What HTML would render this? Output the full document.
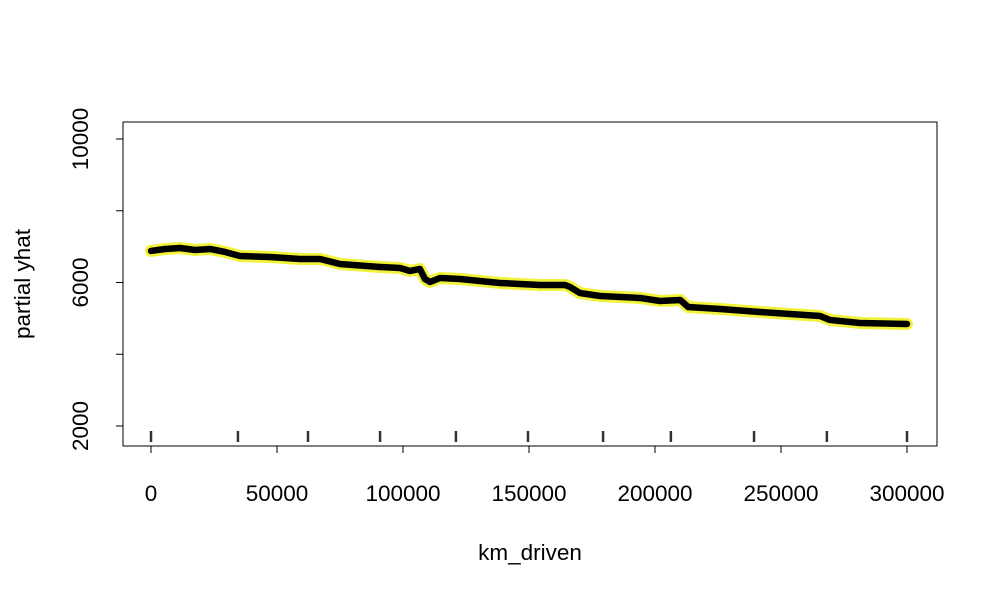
<!DOCTYPE html>
<html><head><meta charset="utf-8"><style>body{margin:0;background:#fff}svg text{font-family:"Liberation Sans",Arial,sans-serif;font-size:22.5px;fill:#000}</style></head>
<body>
<svg id="chart" width="1000" height="600">
<rect x="123" y="122" width="814" height="324" fill="none" stroke="#000" stroke-width="1"/>
<g id="axes"></g>
<g id="series"></g>
<text x="530" y="560" text-anchor="middle">km_driven</text>
<text transform="translate(30,284) rotate(-90)" text-anchor="middle">partial yhat</text>
</svg>
<script>
const kmValues=[0,5560,11500,17500,23400,29400,35300,47200,59100,67100,75000,90900,98800,102800,106700,108700,110700,114700,122600,130500,138500,146400,154400,164300,166300,170200,178200,194000,202000,210000,213100,225800,241700,253600,265500,269400,281300,300000];
const yhatValues=[6879,6934,6962,6906,6934,6851,6739,6711,6656,6656,6516,6433,6405,6321,6377,6098,6015,6126,6098,6043,5987,5959,5931,5931,5875,5708,5624,5569,5485,5513,5318,5262,5179,5123,5067,4956,4872,4844];
const rugValues=[0,34500,62300,90900,121000,149600,179400,206300,239300,268200,300000];
const xTicks=[0,50000,100000,150000,200000,250000,300000];
const yTicks=[2000,6000,10000];
const yMinor=[4000,8000];
const ns="http://www.w3.org/2000/svg";
const sx=v=>151+v*756/300000;
const sy=v=>139+(10000-v)*143.5/4000;
const ax=document.getElementById('axes'),se=document.getElementById('series');
function mk(t,a,p){const e=document.createElementNS(ns,t);for(const k in a)e.setAttribute(k,a[k]);p.appendChild(e);return e;}
mk('line',{x1:sx(0),x2:sx(300000),y1:446,y2:446,stroke:'#000'},ax);
xTicks.forEach(v=>{
 const l=mk('line',{x1:sx(v),x2:sx(v),y1:446,y2:453,stroke:'#000'},ax);
 
 
 const t=mk('text',{x:sx(v),y:501,'text-anchor':'middle'},ax);t.textContent=v;
 
 
});
mk('line',{x1:123,x2:123,y1:sy(2000),y2:sy(10000),stroke:'#000'},ax);
yTicks.concat(yMinor).forEach(v=>{
 const l=mk('line',{x1:116,x2:123,y1:sy(v),y2:sy(v),stroke:'#000'},ax);
 
 
});
yTicks.forEach(v=>{
 const t=mk('text',{transform:`translate(88,${sy(v)}) rotate(-90)`,'text-anchor':'middle'},ax);t.textContent=v;
 
 
});
const pts=kmValues.map((v,i)=>sx(v)+','+sy(yhatValues[i])).join(' ');
const halo=mk('polyline',{points:pts,fill:'none',stroke:'#f2f23a','stroke-width':12,'stroke-linejoin':'round','stroke-linecap':'round'},se);


const line=mk('polyline',{points:pts,fill:'none',stroke:'#000','stroke-width':6.5,'stroke-linejoin':'round','stroke-linecap':'round'},se);


rugValues.forEach(v=>{
 const r=mk('line',{x1:sx(v),x2:sx(v),y1:431,y2:442,stroke:'#333','stroke-width':2.5},se);
 
 
});
</script>
</body></html>
